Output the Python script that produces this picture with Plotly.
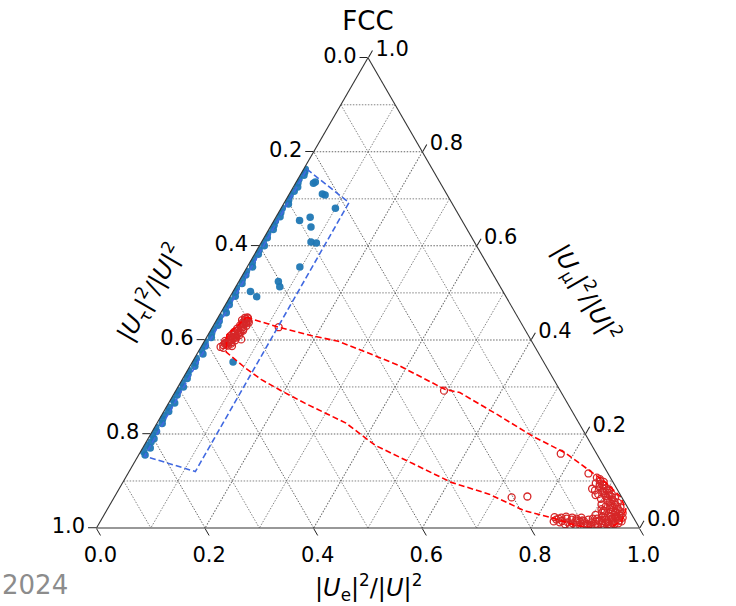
import plotly.graph_objects as go

FONT = "DejaVu Sans"

# Flavour fractions of the heavy-neutrino mixing, |U_e|^2/|U|^2 and |U_mu|^2/|U|^2;
# the tau fraction is the remainder to 1.

# Blue sample: points hugging the |U_e|^2 = 0 side
blue_edge_mu = [0.155, 0.162, 0.170, 0.176, 0.183, 0.190, 0.198, 0.205, 0.214, 0.222,
                0.231, 0.240, 0.248, 0.257, 0.266, 0.274, 0.283, 0.292, 0.300, 0.309,
                0.318, 0.327, 0.335, 0.344, 0.352, 0.361, 0.370, 0.379, 0.387, 0.396,
                0.405, 0.414, 0.422, 0.431, 0.440, 0.449, 0.458, 0.466, 0.475, 0.484,
                0.493, 0.502, 0.511, 0.520, 0.529, 0.538, 0.546, 0.555, 0.564, 0.573,
                0.582, 0.591, 0.600, 0.608, 0.617, 0.626, 0.635, 0.644, 0.653, 0.662,
                0.671, 0.680, 0.689, 0.698, 0.707, 0.716, 0.725, 0.734, 0.742, 0.750,
                0.757, 0.763]
blue_edge_e = [0.012, 0.006, 0.014, 0.003, 0.009, 0.011, 0.004, 0.008, 0.002, 0.010,
               0.006, 0.003, 0.009, 0.005, 0.011, 0.002, 0.007, 0.004, 0.010, 0.003,
               0.008, 0.005, 0.002, 0.009, 0.006, 0.003, 0.011, 0.004, 0.007, 0.002,
               0.009, 0.005, 0.003, 0.008, 0.006, 0.002, 0.010, 0.004, 0.007, 0.003,
               0.009, 0.005, 0.002, 0.008, 0.004, 0.006, 0.003, 0.010, 0.005, 0.002,
               0.007, 0.004, 0.009, 0.003, 0.006, 0.002, 0.008, 0.005, 0.003, 0.007,
               0.004, 0.002, 0.009, 0.005, 0.003, 0.006, 0.008, 0.004, 0.002, 0.007,
               0.005, 0.003]
blue_inner_e = [0.033, 0.035, 0.061, 0.067, 0.100, 0.063, 0.047, 0.075,
                0.091, 0.102, 0.097, 0.073, 0.081, 0.032, 0.049, 0.075]
blue_inner_mu = [0.733, 0.736, 0.710, 0.708, 0.680, 0.661, 0.654, 0.640,
                 0.608, 0.606, 0.555, 0.524, 0.513, 0.503, 0.492, 0.353]

# Red sample: cluster near the tau side
red_a_e = [0.036, 0.042, 0.048, 0.040, 0.046, 0.052, 0.038, 0.044, 0.050, 0.056,
           0.042, 0.048, 0.054, 0.045, 0.051, 0.057, 0.047, 0.053, 0.059, 0.049,
           0.055, 0.061, 0.051, 0.057, 0.047, 0.053, 0.059, 0.050, 0.056, 0.062,
           0.066, 0.056,
           0.039, 0.045, 0.051, 0.043, 0.049, 0.055, 0.046, 0.052, 0.058, 0.048,
           0.054, 0.060, 0.050, 0.056, 0.052, 0.058, 0.041, 0.047, 0.044, 0.054]
red_a_mu = [0.385, 0.383, 0.388, 0.392, 0.395, 0.392, 0.398, 0.401, 0.403, 0.399,
            0.408, 0.410, 0.412, 0.417, 0.419, 0.416, 0.424, 0.426, 0.423, 0.431,
            0.433, 0.430, 0.437, 0.439, 0.442, 0.444, 0.441, 0.447, 0.446, 0.437,
            0.401, 0.387,
            0.389, 0.390, 0.395, 0.396, 0.399, 0.405, 0.406, 0.407, 0.410, 0.414,
            0.415, 0.420, 0.421, 0.427, 0.434, 0.435, 0.393, 0.402, 0.412, 0.448]

# Red sample: cluster in the |U_e|^2 -> 1 corner
red_b_e = [0.832, 0.838, 0.845, 0.850, 0.856, 0.862, 0.866, 0.872, 0.876, 0.880,
           0.884, 0.889, 0.893, 0.897, 0.902, 0.906, 0.910, 0.914, 0.918, 0.922,
           0.926, 0.930, 0.933, 0.936, 0.940, 0.942, 0.944, 0.947, 0.935, 0.925,
           0.868, 0.878, 0.885, 0.872, 0.890, 0.896, 0.882, 0.900, 0.906, 0.893,
           0.910, 0.916, 0.903, 0.920, 0.926, 0.912, 0.930, 0.936, 0.922, 0.940,
           0.946, 0.932, 0.948, 0.952, 0.940, 0.950, 0.955, 0.945, 0.956, 0.950,
           0.905, 0.910, 0.915, 0.920, 0.912, 0.905, 0.898, 0.888, 0.878,
           0.835, 0.841, 0.847, 0.853, 0.859, 0.865, 0.869, 0.874, 0.878, 0.882,
           0.887, 0.891, 0.895, 0.899, 0.904, 0.908, 0.912, 0.916, 0.920, 0.924,
           0.928, 0.931, 0.938, 0.943, 0.946,
           0.875, 0.880, 0.886, 0.892, 0.898, 0.903, 0.908, 0.913, 0.918, 0.923,
           0.928, 0.933, 0.938, 0.943, 0.948, 0.953, 0.958, 0.960, 0.930, 0.925,
           0.918, 0.935, 0.942, 0.915]
red_b_mu = [0.023, 0.018, 0.022, 0.015, 0.020, 0.012, 0.018, 0.010, 0.016, 0.006,
            0.013, 0.004, 0.010, 0.018, 0.005, 0.012, 0.002, 0.009, 0.016, 0.003,
            0.010, 0.018, 0.004, 0.012, 0.020, 0.006, 0.014, 0.002, 0.024, 0.022,
            0.107, 0.100, 0.098, 0.095, 0.090, 0.085, 0.088, 0.080, 0.075, 0.078,
            0.070, 0.066, 0.068, 0.060, 0.056, 0.058, 0.050, 0.046, 0.048, 0.040,
            0.036, 0.038, 0.030, 0.026, 0.028, 0.020, 0.016, 0.022, 0.010, 0.008,
            0.050, 0.040, 0.032, 0.025, 0.020, 0.028, 0.062, 0.072, 0.080,
            0.014, 0.020, 0.012, 0.024, 0.008, 0.022, 0.006, 0.020, 0.012, 0.022,
            0.016, 0.014, 0.005, 0.008, 0.020, 0.006, 0.014, 0.004, 0.022, 0.015,
            0.006, 0.012, 0.008, 0.024, 0.010,
            0.104, 0.094, 0.092, 0.084, 0.074, 0.082, 0.064, 0.072, 0.054, 0.064,
            0.044, 0.054, 0.034, 0.044, 0.024, 0.032, 0.022, 0.014, 0.034, 0.040,
            0.036, 0.024, 0.018, 0.046]

# Red sample: isolated points
red_out_e = [0.122, 0.871, 0.884, 0.915, 0.776, 0.848, 0.494, 0.732, 0.760]
red_out_mu = [0.427, 0.0835, 0.070, 0.037, 0.158, 0.116, 0.292, 0.065, 0.067]

# Enclosing regions (dashed outlines)
blue_region_e = [0.006, 0.119, 0.122, 0.012, 0.006]
blue_region_mu = [0.763, 0.692, 0.120, 0.153, 0.763]

red_region_e = [0.052, 0.122, 0.196, 0.247, 0.304, 0.383, 0.494, 0.525, 0.618, 0.706,
                0.783, 0.842, 0.889, 0.931, 0.955, 0.960, 0.945,
                0.916, 0.881, 0.830, 0.769, 0.687, 0.605, 0.514, 0.425, 0.348,
                0.252, 0.194, 0.145, 0.106, 0.052, 0.035, 0.052]
red_region_mu = [0.448, 0.427, 0.408, 0.397, 0.376, 0.346, 0.295, 0.288, 0.241, 0.195,
                 0.160, 0.125, 0.097, 0.067, 0.040, 0.015, 0.000,
                 0.000, 0.005, 0.021, 0.037, 0.072, 0.097, 0.137, 0.176, 0.223,
                 0.265, 0.292, 0.316, 0.339, 0.374, 0.410, 0.448]

major_ticks = [0.0, 0.2, 0.4, 0.6, 0.8, 1.0]
minor_grid = [0.1, 0.3, 0.5, 0.7, 0.9]

BLUE = "#1f77b4"
RED = "#d62728"
GRID = "#666666"
GRID_DASH = "1.5px,1.5px"


def tern(e_vals, mu_vals):
    """a = mu (top), b = tau (bottom-left), c = e (bottom-right)."""
    a = list(mu_vals)
    c = list(e_vals)
    b = [1.0 - x - y for x, y in zip(c, a)]
    return dict(a=a, b=b, c=c)


fig = go.Figure()

# intermediate grid lines at the odd tenths
for v in minor_grid:
    w = 1.0 - v
    for seg in (dict(a=[v, v], b=[w, 0], c=[0, w]),
                dict(a=[w, 0], b=[v, v], c=[0, w]),
                dict(a=[w, 0], b=[0, w], c=[v, v])):
        fig.add_trace(go.Scatterternary(
            **seg, mode="lines", hoverinfo="skip", showlegend=False,
            line=dict(color=GRID, width=0.8, dash=GRID_DASH)))

fig.add_trace(go.Scatterternary(
    **tern(blue_edge_e + blue_inner_e, blue_edge_mu + blue_inner_mu),
    mode="markers", showlegend=False,
    marker=dict(color=BLUE, size=7.5, opacity=0.95, line=dict(width=0))))

fig.add_trace(go.Scatterternary(
    **tern(red_a_e + red_b_e + red_out_e, red_a_mu + red_b_mu + red_out_mu),
    mode="markers", showlegend=False,
    marker=dict(symbol="circle-open", color=RED, size=7, line=dict(width=1.3, color=RED))))

fig.add_trace(go.Scatterternary(
    **tern(blue_region_e, blue_region_mu), mode="lines", showlegend=False,
    line=dict(color="#4169e1", width=1.6, dash="6px,3px")))

fig.add_trace(go.Scatterternary(
    **tern(red_region_e, red_region_mu), mode="lines", showlegend=False,
    line=dict(color="#ff0000", width=1.6, dash="6px,3px")))


def axis(labels):
    return dict(
        tickmode="array", tickvals=major_ticks, ticktext=labels,
        tickfont=dict(family=FONT, size=21, color="black"),
        ticks="outside", ticklen=8, tickwidth=1.2, tickcolor="#222",
        showline=True, linecolor="#333", linewidth=1.1,
        showgrid=True, gridcolor=GRID, gridwidth=0.8, griddash=GRID_DASH,
        title=dict(text=""), min=0,
    )


# each side is labelled with the fraction that grows along it
flip = [f"{1 - v:.1f}" for v in major_ticks]

W, H = 736, 606
tri_w = 543
tri_h = tri_w * 3 ** 0.5 / 2
x_left = (W - tri_w) / 2
y_bottom = 528
y_top = y_bottom - tri_h

fig.update_layout(
    width=W, height=H,
    margin=dict(l=0, r=0, t=0, b=0),
    paper_bgcolor="white",
    font=dict(family=FONT, color="black"),
    title=dict(text="FCC", x=0.5, xanchor="center", y=1 - 21 / H, yanchor="middle",
               font=dict(family=FONT, size=26, color="black")),
    ternary=dict(
        sum=1,
        bgcolor="white",
        domain=dict(x=[x_left / W, (x_left + tri_w) / W],
                    y=[1 - y_bottom / H, 1 - y_top / H]),
        aaxis=axis(flip),
        baxis=axis(flip),
        caxis=axis(flip),
    ),
)

lab_font = dict(family=FONT, size=24, color="black")
mid_y = (y_top + y_bottom) / 2
left_mid_x = x_left + tri_w / 4
right_mid_x = x_left + 3 * tri_w / 4
shift = 82
fig.add_annotation(text="|<i>U</i><sub>τ</sub>|<sup>2</sup>/|<i>U</i>|<sup>2</sup>",
                   xref="paper", yref="paper", showarrow=False, textangle=-60,
                   x=(left_mid_x - shift) / W, y=1 - mid_y / H,
                   xanchor="center", yanchor="middle", font=lab_font)
fig.add_annotation(text="|<i>U</i><sub>μ</sub>|<sup>2</sup>/|<i>U</i>|<sup>2</sup>",
                   xref="paper", yref="paper", showarrow=False, textangle=60,
                   x=(right_mid_x + shift) / W, y=1 - mid_y / H,
                   xanchor="center", yanchor="middle", font=lab_font)
fig.add_annotation(text="|<i>U</i><sub>e</sub>|<sup>2</sup>/|<i>U</i>|<sup>2</sup>",
                   xref="paper", yref="paper", showarrow=False,
                   x=0.5, y=1 - 587 / H, xanchor="center", yanchor="middle", font=lab_font)
fig.add_annotation(text="2024", xref="paper", yref="paper", showarrow=False,
                   x=0, y=1 - 585 / H, xanchor="left", yanchor="middle",
                   font=dict(family=FONT, size=26, color="#8c8c8c"))

fig.write_html("out.html")
